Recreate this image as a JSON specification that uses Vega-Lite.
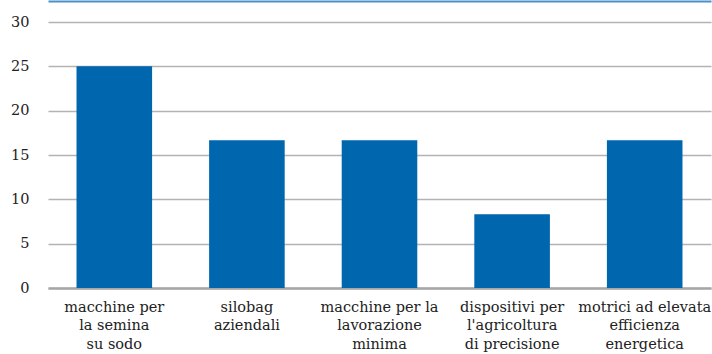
{
  "$schema": "https://vega.github.io/schema/vega-lite/v6.json",
  "width": 663,
  "height": 266,
  "autosize": {"type": "none"},
  "padding": {"left": 48, "top": 22, "right": 1, "bottom": 66},
  "background": "white",
  "data": {
    "values": [
      {"cat": "macchine per|la semina|su sodo", "val": 25},
      {"cat": "silobag|aziendali", "val": 16.67},
      {"cat": "macchine per la|lavorazione|minima", "val": 16.67},
      {"cat": "dispositivi per|l'agricoltura|di precisione", "val": 8.33},
      {"cat": "motrici ad elevata|efficienza|energetica", "val": 16.67}
    ]
  },
  "layer": [
    {
      "mark": {"type": "bar", "color": "#0066ad"},
      "encoding": {
        "x": {
          "field": "cat", "type": "nominal", "sort": null,
          "scale": {"paddingInner": 0.43, "paddingOuter": 0.215},
          "axis": {
            "title": null, "orient": "bottom", "labelAngle": 0,
            "labelExpr": "split(datum.label, '|')",
            "labelLineHeight": 18.5, "labelPadding": 12, "labelBaseline": "top",
            "ticks": false, "domainColor": "#a6a6a6", "domainWidth": 2.5, "grid": false
          }
        },
        "y": {
          "field": "val", "type": "quantitative",
          "scale": {"domain": [0, 30]},
          "axis": {
            "title": null, "values": [0, 5, 10, 15, 20, 25, 30],
            "labelPadding": 19, "ticks": false, "domain": false,
            "gridColor": "#b3b3b3", "gridWidth": 1.5
          }
        }
      }
    },
    {
      "mark": {"type": "rule", "opacity": 0},
      "encoding": {
        "x": {
          "field": "cat", "type": "nominal", "sort": null,
          "axis": {
            "title": null, "orient": "top", "labels": false, "ticks": false,
            "grid": false, "domainColor": "#4a90c8", "domainWidth": 2, "offset": 21
          }
        }
      }
    }
  ],
  "resolve": {"axis": {"x": "independent"}},
  "config": {
    "font": "DejaVu Serif",
    "view": {"stroke": null},
    "axis": {"labelFont": "DejaVu Serif", "labelFontSize": 14.5, "labelColor": "#222"}
  }
}
